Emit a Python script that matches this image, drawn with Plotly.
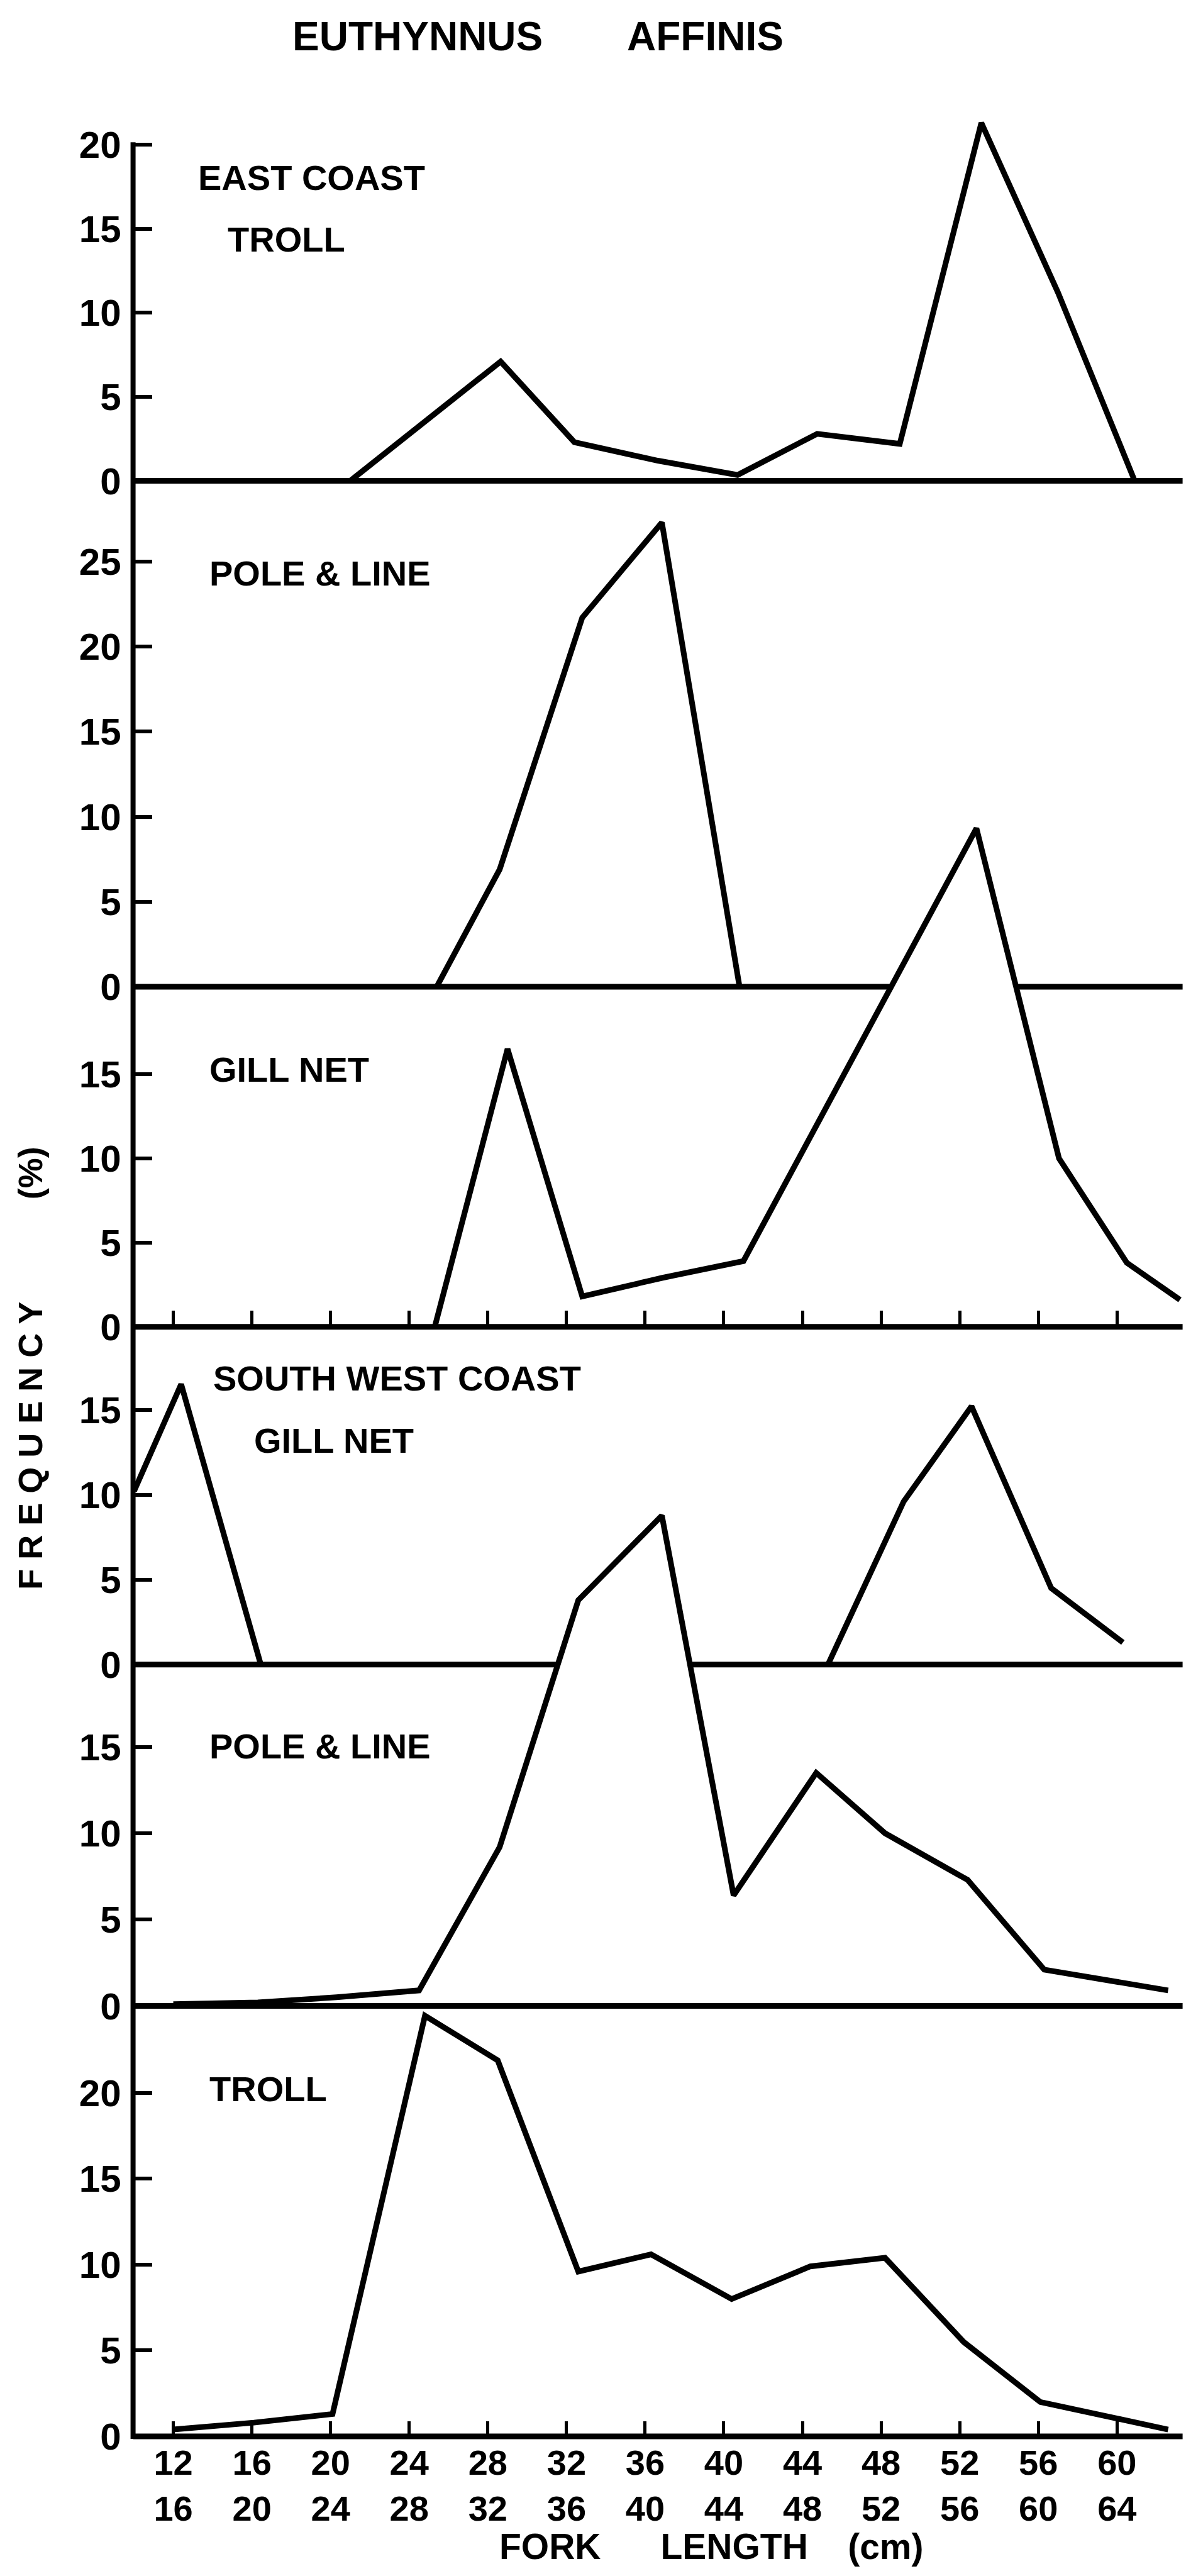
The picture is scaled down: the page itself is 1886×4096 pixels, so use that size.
import plotly.graph_objects as go

# ---------------- data (fork length in cm, frequency in %) ----------------
class_lo = [12, 16, 20, 24, 28, 32, 36, 40, 44, 48, 52, 56, 60]
class_hi = [16, 20, 24, 28, 32, 36, 40, 44, 48, 52, 56, 60, 64]

# East coast - troll
ec_troll_x = [23.0, 30.65, 34.4, 38.65, 42.7, 46.75, 50.95, 55.1, 59.0, 62.9]
ec_troll_y = [0, 7.1, 2.3, 1.2, 0.35, 2.8, 2.2, 21.3, 11.2, 0]
# East coast - pole & line
ec_pole_x = [27.4, 30.6, 34.8, 38.85, 42.8]
ec_pole_y = [0, 6.9, 21.7, 27.3, 0]
# East coast - gill net
ec_gill_x = [27.3, 31.0, 34.8, 38.85, 43.0, 47.0, 51.0, 54.85, 59.05, 62.5, 65.2]
ec_gill_y = [0, 16.5, 1.8, 2.9, 3.9, 12.6, 21.4, 29.6, 10.0, 3.8, 1.6]
# South west coast - gill net
sw_gill_x = [12.0, 14.4, 18.45, 47.3, 51.15, 54.6, 58.65, 62.3]
sw_gill_y = [10.2, 16.5, 0, 0, 9.6, 15.2, 4.5, 1.3]
# South west coast - pole & line
sw_pole_x = [14.0, 18.3, 22.3, 26.5, 30.6, 34.6, 38.85, 42.5, 46.7, 50.2, 54.4, 58.3, 64.6]
sw_pole_y = [0.1, 0.2, 0.5, 0.9, 9.2, 23.5, 28.4, 6.4, 13.5, 10.0, 7.3, 2.1, 0.9]
# South west coast - troll
sw_troll_x = [14.0, 18.1, 22.1, 26.8, 30.5, 34.6, 38.3, 42.4, 46.4, 50.2, 54.2, 58.1, 64.6]
sw_troll_y = [0.4, 0.8, 1.3, 24.5, 21.9, 9.6, 10.6, 8.0, 9.9, 10.4, 5.5, 2.0, 0.4]

# ---------------- layout geometry (reference units, 722 x 1568) ----------------
W, H = 1886, 4096
RW, RH = 722.0, 1568.0
FONT = "Liberation Sans"


def px(rx):
    return rx / RW


def py(ry):
    return 1 - ry / RH


AXIS_RX = 81.0
RIGHT_RX = 720.0
TICK0_RX = 105.5      # position of first class midpoint
STEP_RX = 47.875      # per 4 cm class
mids = [(a + b) / 2 for a, b in zip(class_lo, class_hi)]
cm_per_rx = 4.0 / STEP_RX
x_range = [mids[0] + (AXIS_RX - TICK0_RX) * cm_per_rx,
           mids[0] + (RIGHT_RX - TICK0_RX) * cm_per_rx]

BOTTOM = -1.5
panels = [
    dict(x=ec_troll_x, y=ec_troll_y, zero=292.7, unit=10.23, top=23.0, ticks=[0, 5, 10, 15, 20]),
    dict(x=ec_pole_x, y=ec_pole_y, zero=600.6, unit=10.35, top=28.8, ticks=[0, 5, 10, 15, 20, 25]),
    dict(x=ec_gill_x, y=ec_gill_y, zero=807.6, unit=10.25, top=31.2, ticks=[0, 5, 10, 15]),
    dict(x=sw_gill_x, y=sw_gill_y, zero=1013.2, unit=10.34, top=18.0, ticks=[0, 5, 10, 15]),
    dict(x=sw_pole_x, y=sw_pole_y, zero=1221.0, unit=10.51, top=29.8, ticks=[0, 5, 10, 15]),
    dict(x=sw_troll_x, y=sw_troll_y, zero=1483.0, unit=10.45, top=26.0, ticks=[0, 5, 10, 15, 20]),
]

LINE_W = 9
BASE_W = 9


def drawn(xs, vs):
    ox, ov = [], []
    for i, (x, v) in enumerate(zip(xs, vs)):
        if i > 0 and v == 0 and vs[i - 1] == 0:
            ox.append(None)
            ov.append(None)
        ox.append(x)
        ov.append(v)
    return ox, ov


def above_intervals(xs, vs, level):
    out, start = [], None
    if vs[0] > level:
        start = xs[0]
    for i in range(len(xs) - 1):
        x0, x1, v0, v1 = xs[i], xs[i + 1], vs[i], vs[i + 1]
        if v0 <= level < v1:
            start = x0 + (level - v0) / (v1 - v0) * (x1 - x0)
        elif v0 > level >= v1:
            out.append((start, x0 + (level - v0) / (v1 - v0) * (x1 - x0)))
            start = None
    if start is not None:
        out.append((start, xs[-1]))
    return out


fig = go.Figure()
layout = dict(
    width=W, height=H, margin=dict(l=0, r=0, t=0, b=0),
    paper_bgcolor="white", plot_bgcolor="rgba(0,0,0,0)",
    showlegend=False, hovermode=False,
    font=dict(family=FONT, color="black"),
)

for k, p in enumerate(panels):
    n = k + 1
    yname = "y" if n == 1 else f"y{n}"
    lname = "yaxis" if n == 1 else f"yaxis{n}"
    dom = [py(p["zero"] - BOTTOM * p["unit"]), py(p["zero"] - p["top"] * p["unit"])]
    layout[lname] = dict(
        domain=dom, range=[BOTTOM, p["top"]], anchor="x",
        tickmode="array", tickvals=p["ticks"],
        ticktext=[f"<b>{t}</b>" for t in p["ticks"]],
        ticks="inside", ticklen=30, tickwidth=6, tickcolor="black",
        ticklabelstandoff=18,
        showline=False, showgrid=False, zeroline=False,
        tickfont=dict(family=FONT, size=60, color="black"),
    )
    # baseline with gaps where the next panel's curve rises through it
    segs_x = [x_range[0]]
    if k + 1 < len(panels):
        q = panels[k + 1]
        level = (q["zero"] - p["zero"]) / q["unit"]
        for a, b in above_intervals(q["x"], q["y"], level):
            segs_x += [a, None, b]
    segs_x.append(x_range[1])
    segs_y = [None if v is None else 0 for v in segs_x]
    fig.add_trace(go.Scatter(x=segs_x, y=segs_y, xaxis="x", yaxis=yname, mode="lines",
                             line=dict(color="black", width=BASE_W),
                             hoverinfo="skip", connectgaps=False))
    dx, dv = drawn(p["x"], p["y"])
    fig.add_trace(go.Scatter(x=dx, y=dv, xaxis="x", yaxis=yname, mode="lines",
                             line=dict(color="black", width=LINE_W),
                             hoverinfo="skip", connectgaps=False))

# dummy trace for the tick axis on the gill-net baseline
fig.add_trace(go.Scatter(x=[mids[0]], y=[0], xaxis="x2", yaxis="y3", mode="markers",
                         marker=dict(opacity=0), hoverinfo="skip"))

ticktext = [f"<b>{a}<br>{b}</b>" for a, b in zip(class_lo, class_hi)]
layout["xaxis"] = dict(
    domain=[px(AXIS_RX), px(RIGHT_RX)], range=x_range, anchor="free",
    position=py(panels[-1]["zero"]),
    tickmode="array", tickvals=mids, ticktext=ticktext,
    ticks="inside", ticklen=24, tickwidth=5, tickcolor="black",
    ticklabelstandoff=4,
    showline=False, showgrid=False, zeroline=False,
    tickfont=dict(family=FONT, size=56, color="black"),
)
layout["xaxis2"] = dict(
    overlaying="x", range=x_range, anchor="free",
    position=py(panels[2]["zero"]),
    tickmode="array", tickvals=mids,
    ticks="inside", ticklen=26, tickwidth=5, tickcolor="black",
    showticklabels=False, showline=False, showgrid=False, zeroline=False,
)

# vertical axis line
layout["shapes"] = [dict(type="line", xref="paper", yref="paper",
                         x0=px(AXIS_RX), x1=px(AXIS_RX),
                         y0=py(panels[0]["zero"] - 20.15 * panels[0]["unit"]),
                         y1=py(panels[-1]["zero"] + 1.5),
                         line=dict(color="black", width=8))]

NB = "\u00a0"
ann = []


def text(t, rx, ry, size, xanchor="left", angle=0):
    ann.append(dict(text=f"<b>{t}</b>", x=px(rx), y=py(ry), xref="paper", yref="paper",
                    xanchor=xanchor, yanchor="middle", showarrow=False, textangle=angle,
                    font=dict(family=FONT, size=size, color="black")))


text("EUTHYNNUS", 254.3, 22.2, 64, "center")
text("AFFINIS", 429.3, 22.2, 64, "center")
labels = [("EAST COAST", 120, 108), ("TROLL", 138, 145.5),
          ("POLE" + NB + "&" + NB + "LINE", 126.6, 349), ("GILL NET", 126.6, 651),
          ("SOUTH WEST COAST", 129, 839), ("GILL NET", 154, 877),
          ("POLE" + NB + "&" + NB + "LINE", 126.6, 1063), ("TROLL", 126.6, 1271.6)]
for t, rx, ry in labels:
    text(t, rx, ry, 56)
text("F R E Q U E N C Y", 18.4, 880, 54, "center", -90)
text("(%)", 18.4, 714, 54, "center", -90)
text("FORK" + NB * 6 + "LENGTH" + NB * 4 + "(cm)", 433, 1550, 57, "center")
layout["annotations"] = ann

fig.update_layout(**layout)
fig.write_html("out.html")
